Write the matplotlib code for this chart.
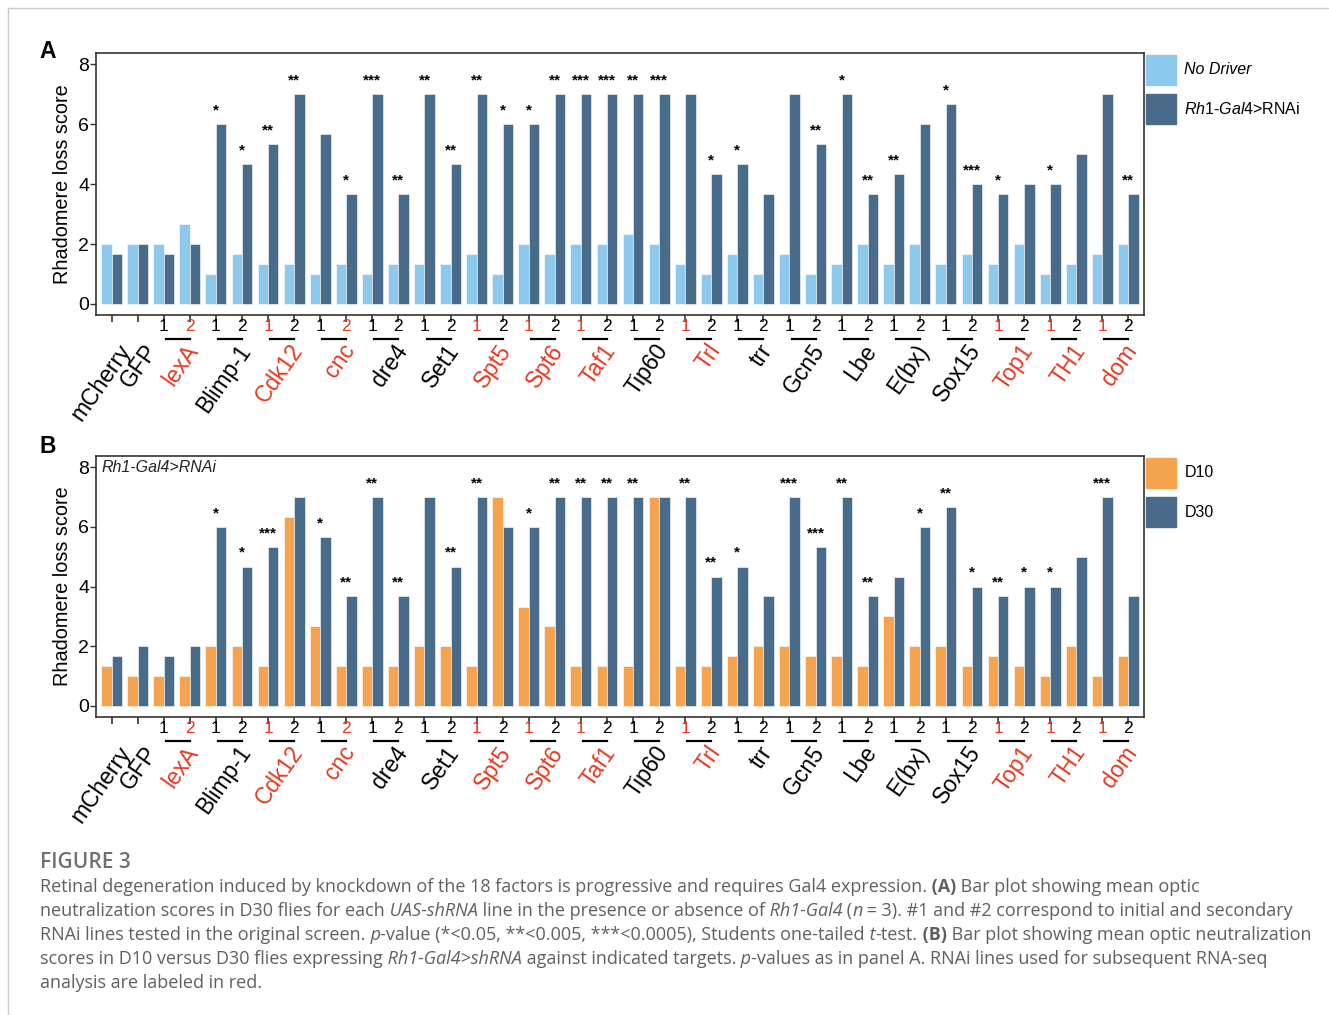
import matplotlib
matplotlib.use("Agg")
from matplotlib import pyplot as plt
from matplotlib.patches import Patch
from matplotlib.lines import Line2D
import matplotlib.transforms as mtransforms
import numpy as np

plt.rcParams['font.family'] = ['Liberation Sans', 'DejaVu Sans']
plt.rcParams['mathtext.fontset'] = 'custom'
plt.rcParams['mathtext.it'] = 'Liberation Sans:italic'
plt.rcParams['mathtext.rm'] = 'Liberation Sans'

# groups: 2 controls, then lines 1 and 2 for each factor
controls = ["mCherry", "GFP"]
factors = ["lexA", "Blimp-1", "Cdk12", "cnc", "dre4", "Set1", "Spt5", "Spt6", "Taf1",
           "Tip60", "Trl", "trr", "Gcn5", "Lbe", "E(bx)", "Sox15", "Top1", "TH1", "dom"]
# which line (1 or 2) was used for RNA-seq -> red; 0 = none
red_line = [2, 0, 1, 2, 0, 0, 1, 1, 1, 0, 1, 0, 0, 0, 0, 0, 1, 1, 1]

# panel A: D30, no driver vs Rh1-Gal4>RNAi
no_driver = [2, 2, 2, 2.67, 1, 1.67, 1.33, 1.33, 1, 1.33, 1, 1.33, 1.33, 1.33, 1.67, 1, 2, 1.67, 2, 2,
             2.33, 2, 1.33, 1, 1.67, 1, 1.67, 1, 1.33, 2, 1.33, 2, 1.33, 1.67, 1.33, 2, 1, 1.33, 1.67, 2]
rh1_rnai = [1.67, 2, 1.67, 2, 6, 4.67, 5.33, 7, 5.67, 3.67, 7, 3.67, 7, 4.67, 7, 6, 6, 7, 7, 7,
            7, 7, 7, 4.33, 4.67, 3.67, 7, 5.33, 7, 3.67, 4.33, 6, 6.67, 4, 3.67, 4, 4, 5, 7, 3.67]
sig_a = ["", "", "", "", "*", "*", "**", "**", "", "*", "***", "**", "**", "**", "**", "*", "*", "**", "***", "***",
         "**", "***", "", "*", "*", "", "", "**", "*", "**", "**", "", "*", "***", "*", "", "*", "", "", "**"]

# panel B: Rh1-Gal4>RNAi, D10 vs D30
d10 = [1.33, 1, 1, 1, 2, 2, 1.33, 6.33, 2.67, 1.33, 1.33, 1.33, 2, 2, 1.33, 7, 3.33, 2.67, 1.33, 1.33,
       1.33, 7, 1.33, 1.33, 1.67, 2, 2, 1.67, 1.67, 1.33, 3, 2, 2, 1.33, 1.67, 1.33, 1, 2, 1, 1.67]
d30 = [1.67, 2, 1.67, 2, 6, 4.67, 5.33, 7, 5.67, 3.67, 7, 3.67, 7, 4.67, 7, 6, 6, 7, 7, 7,
       7, 7, 7, 4.33, 4.67, 3.67, 7, 5.33, 7, 3.67, 4.33, 6, 6.67, 4, 3.67, 4, 4, 5, 7, 3.67]
sig_b = ["", "", "", "", "*", "*", "***", "", "*", "**", "**", "**", "", "**", "**", "", "*", "**", "**", "**",
         "**", "", "**", "**", "*", "", "***", "***", "**", "**", "", "*", "**", "*", "**", "*", "*", "", "***", ""]

light_blue = "#8DC9EC"
dark_blue = "#476B89"
orange = "#F5A34E"
red = "#E8381F"
W, H = 1329, 1015

fig = plt.figure(figsize=(W / 100, H / 100), dpi=100)
ax_a = fig.add_axes([96 / W, 1 - 315 / H, 1048 / W, 262 / H])
ax_b = fig.add_axes([96 / W, 1 - 717 / H, 1048 / W, 261 / H])

x = np.arange(len(no_driver))


def draw_panel(ax, left, right, sig, left_color):
    ax.bar(x - 0.2, left, width=0.4, color=left_color, edgecolor='white', linewidth=0.4)
    ax.bar(x + 0.2, right, width=0.4, color=dark_blue, edgecolor='white', linewidth=0.4)
    for xi, v, s in zip(x, right, sig):
        if s:
            ax.text(xi, v + 0.33, s, ha='center', va='baseline', fontsize=11, fontweight='bold')
    ax.set_xlim(-0.6, 39.6)
    ax.set_ylim(-0.37, 8.38)
    ax.set_yticks([0, 2, 4, 6, 8])
    ax.tick_params(axis='y', labelsize=14, length=4, width=1, pad=1, color='#333333')
    ax.set_xticks(x)
    ax.set_xticklabels([])
    ax.tick_params(axis='x', length=5, width=1.2, color='#333333')
    for sp in ax.spines.values():
        sp.set_color('#333333')
        sp.set_linewidth(1.2)
    ax.set_ylabel("Rhadomere loss score", fontsize=14.3, labelpad=4)

    trans = mtransforms.blended_transform_factory(ax.transData, ax.transAxes)
    for xi, name in zip(x[:2], controls):
        ax.text(xi + 0.2, -0.095, name, transform=trans, rotation=55, rotation_mode='anchor',
                ha='right', va='top', fontsize=16.5)
    for i, (name, r) in enumerate(zip(factors, red_line)):
        g1 = 2 + 2 * i
        g2 = g1 + 1
        ax.text(g1, -0.045, "1", transform=trans, ha='center', va='center', fontsize=12.5,
                color=red if r == 1 else 'black')
        ax.text(g2, -0.045, "2", transform=trans, ha='center', va='center', fontsize=12.5,
                color=red if r == 2 else 'black')
        ax.plot([g1 + 0.08, g2], [-0.092, -0.092], transform=trans, color='black', lw=1.6,
                clip_on=False)
        ax.text((g1 + g2) / 2 + 0.3, -0.095, name, transform=trans, rotation=55,
                rotation_mode='anchor', ha='right', va='top', fontsize=16.5,
                color=red if r else 'black')


draw_panel(ax_a, no_driver, rh1_rnai, sig_a, light_blue)
draw_panel(ax_b, d10, d30, sig_b, orange)

leg_kw = dict(loc='upper left', bbox_to_anchor=(1.0, 1.0), borderaxespad=0.1, borderpad=0,
              handlelength=1.875, handleheight=2.51, handletextpad=0.56, labelspacing=0.62,
              frameon=False, fontsize=11.5)
leg = ax_a.legend([Patch(color=light_blue), Patch(color=dark_blue)],
                  ["No Driver", r"$\mathit{Rh1}$-$\mathit{Gal4}$>RNAi"], **leg_kw)
leg.get_texts()[0].set_fontstyle('italic')
ax_b.legend([Patch(color=orange), Patch(color=dark_blue)], ["D10", "D30"], **leg_kw)

ax_b.text(0.005, 0.955, "Rh1-Gal4>RNAi", transform=ax_b.transAxes, fontsize=11.5,
          fontstyle='italic', ha='left', va='center', color='#222222')

fig.text(48 / W, 1 - 52 / H, "A", ha='center', va='center', fontsize=16.5, fontweight='bold')
fig.text(48 / W, 1 - 447 / H, "B", ha='center', va='center', fontsize=16.5, fontweight='bold')

# frame lines of the page
fig.add_artist(Line2D([8 / W, 8 / W], [0, 1 - 8 / H], color='#cccccc', lw=1))
fig.add_artist(Line2D([8 / W, 1], [1 - 8 / H, 1 - 8 / H], color='#cccccc', lw=1))

# caption
cap_color = '#606060'
fig.text(40 / W, 1 - 863 / H, "FIGURE 3", fontsize=15, fontweight='semibold', color='#707070',
         family='Open Sans', va='center')
caption = [
    [("Retinal degeneration induced by knockdown of the 18 factors is progressive and requires Gal4 expression.", 'n'),
     (" (A)", 'b'), (" Bar plot showing mean optic", 'n')],
    [("neutralization scores in D30 flies for each", 'n'), (" UAS-shRNA", 'i'),
     (" line in the presence or absence of", 'n'), (" Rh1-Gal4", 'i'), (" (", 'n'), ("n", 'i'),
     (" = 3). #1 and #2 correspond to initial and secondary", 'n')],
    [("RNAi lines tested in the original screen.", 'n'), (" p", 'i'),
     ("-value (*<0.05, **<0.005, ***<0.0005), Students one-tailed", 'n'), (" t", 'i'), ("-test.", 'n'),
     (" (B)", 'b'), (" Bar plot showing mean optic neutralization", 'n')],
    [("scores in D10 versus D30 flies expressing", 'n'), (" Rh1-Gal4>shRNA", 'i'),
     (" against indicated targets.", 'n'), (" p", 'i'),
     ("-values as in panel A. RNAi lines used for subsequent RNA-seq", 'n')],
    [("analysis are labeled in red.", 'n')],
]
renderer = fig.canvas.get_renderer()
for k, parts in enumerate(caption):
    xpos = 40
    for s, st in parts:
        t = fig.text(xpos / W, 1 - (887 + 24 * k) / H, s, fontsize=12.95, color=cap_color,
                     family='Open Sans', fontstyle='italic' if st == 'i' else 'normal',
                     fontweight='bold' if st == 'b' else 'normal', va='center')
        xpos += t.get_window_extent(renderer).width

fig.savefig("out.png", dpi=100)
